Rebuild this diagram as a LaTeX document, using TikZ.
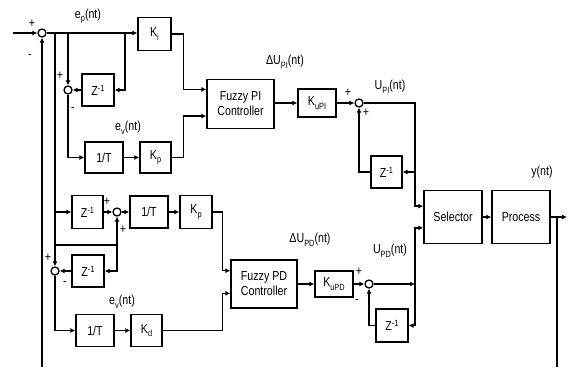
\documentclass[tikz,border=0pt]{standalone}
\usepackage{fontspec}
\setmainfont{Liberation Sans}[FakeStretch=0.82]
\usetikzlibrary{arrows.meta,calc}
\newcommand\sbx[1]{\raisebox{-3.5pt}{\fontsize{9}{9}\selectfont #1}}
\newcommand\spx[1]{\raisebox{4pt}{\fontsize{9}{9}\selectfont #1}}
\begin{document}
\begin{tikzpicture}[x=1pt,y=-1pt,
  every node/.style={font=\fontsize{13}{15}\selectfont},
  blk/.style={draw,line width=1.3pt,inner sep=0pt,align=center},
  bx/.style 2 args={minimum width=#1pt,minimum height=#2pt},
  sumc/.style={draw,circle,line width=1.3pt,minimum size=8pt,inner sep=0pt},
  ln/.style={line width=1.3pt},
  arr/.style={ln,-{Latex[length=5pt,width=5pt]}},
  lbl/.style={inner sep=0pt},
]
\useasboundingbox (0,0) rectangle (570,367);

% ---- boxes ----
\node[blk,bx={33}{33}] (Ki)  at (154.5,34) {K\sbx{i}};
\node[blk,bx={32}{32}] (Zp)  at (98,90) {Z\spx{-1}};
\node[blk,bx={38}{31}] (T1)  at (104,157.5) {1/T};
\node[blk,bx={31}{31}] (Kp1) at (155.5,157.5) {K\sbx{p}};
\node[blk,bx={67}{49}] (FPI) at (240.5,104) {Fuzzy PI\\Controller};
\node[blk,bx={38}{28}] (KuPI) at (317,103) {K\sbx{uPI}};
\node[blk,bx={31}{32}] (Zpi) at (386.5,172) {Z\spx{-1}};
\node[blk,bx={58}{53}] (Sel) at (453,217) {Selector};
\node[blk,bx={58}{53}] (Proc) at (521,217) {Process};

\node[blk,bx={31}{33}] (Zd1) at (87.5,212) {Z\spx{-1}};
\node[blk,bx={38}{32}] (T2)  at (149,212) {1/T};
\node[blk,bx={32}{33}] (Kp2) at (196,212) {K\sbx{p}};
\node[blk,bx={32}{32}] (Zd2) at (88,271) {Z\spx{-1}};
\node[blk,bx={38}{32}] (T3)  at (95,330.5) {1/T};
\node[blk,bx={31}{32}] (Kd)  at (146.5,330.5) {K\sbx{d}};
\node[blk,bx={66}{48}] (FPD) at (264,284) {Fuzzy PD\\Controller};
\node[blk,bx={38}{26}] (KuPD) at (334,284) {K\sbx{uPD}};
\node[blk,bx={32}{33}] (Zpd) at (392,325.5) {Z\spx{-1}};

% ---- summing junctions ----
\node[sumc] (s0) at (42,33) {};
\node[sumc] (s1) at (68,90) {};
\node[sumc] (s2) at (117,212) {};
\node[sumc] (s3) at (55,271) {};
\node[sumc] (s4) at (359,103) {};
\node[sumc] (s5) at (369,284) {};

% ---- helper coordinates ----
\coordinate (in)   at (13,33);
\coordinate (b55)  at (55,33);
\coordinate (b68)  at (68,33);
\coordinate (b125) at (125,33);
\coordinate (j245) at (55,245);
\coordinate (k245) at (117,245);
\coordinate (jr)   at (415,103);
\coordinate (jd)   at (415,284);
\coordinate (out)  at (567,217);
\coordinate (fb)   at (557,217);
\coordinate (fbb)  at (557,367);
\coordinate (fl)   at (42,367);
\coordinate (FPIa) at ($(FPI.north west)!0.21!(FPI.south west)$);
\coordinate (FPIb) at ($(FPI.north west)!0.74!(FPI.south west)$);
\coordinate (FPDa) at ($(FPD.north west)!0.23!(FPD.south west)$);
\coordinate (FPDb) at ($(FPD.north west)!0.69!(FPD.south west)$);
\coordinate (Sela) at ($(Sel.north west)!0.3!(Sel.south west)$);
\coordinate (Selb) at ($(Sel.north west)!0.7!(Sel.south west)$);

% ---- connectors: PI part ----
\draw[arr] (in) -- (s0.west);
\draw[arr] (s0.east) -- (Ki.west |- s0.east);
\draw[arr] (b68) -- (s1.north);
\draw[arr] (b125) |- (Zp.east);
\draw[arr] (Zp.west) -- (s1.east);
\draw[arr] (s1.south) |- (T1.west);
\draw[arr] (T1.east) -- (Kp1.west);
\draw[arr] (Ki.east) -- ++(12,0) |- (FPIa);
\draw[arr] (Kp1.east) -- ++(12,0) |- (FPIb);
\draw[arr] (FPI.east |- KuPI.west) -- (KuPI.west);
\draw[arr] (KuPI.east) -- (s4.west);
\draw[arr] (s4.east) -- (jr) |- (Sela);
\draw[arr] (jr |- Zpi.east) -- (Zpi.east);
\draw[arr] (Zpi.west) -| (s4.south);

% ---- connectors: PD part ----
\draw[arr] (b55) -- (s3.north);
\draw[arr] (b55 |- Zd1.west) -- (Zd1.west);
\draw[arr] (Zd1.east) -- (s2.west);
\draw[arr] (s2.east) -- (T2.west);
\draw[arr] (T2.east) -- (Kp2.west);
\draw[arr] (Kp2.east) -- ++(10,0) |- (FPDa);
\draw[ln] (j245) -- (k245);
\draw[arr] (k245) -- (s2.south);
\draw[arr] (k245) |- (Zd2.east);
\draw[arr] (Zd2.west) -- (s3.east);
\draw[arr] (s3.south) |- (T3.west);
\draw[arr] (T3.east) -- (Kd.west);
\draw[arr] (Kd.east) -- ++(60,0) |- (FPDb);
\draw[arr] (FPD.east) -- (KuPD.west);
\draw[arr] (KuPD.east) -- (s5.west);
\draw[arr] (s5.east) -- (jd);
\draw[arr] (jd |- Zpd.east) |- (Selb);
\draw[arr] (jd |- Zpd.east) -- (Zpd.east);
\draw[arr] (Zpd.west) -| (s5.south);

% ---- output and feedback ----
\draw[arr] (Sel.east) -- (Proc.west);
\draw[arr] (Proc.east) -- (out);
\draw[ln] (fb) -- (fbb);
\draw[arr] (fl) -- (s0.south);

% ---- labels ----
\node[lbl] (lep)  at (88,16)   {e\sbx{p}(nt)};
\node[lbl] (lev1) at (128,128) {e\sbx{v}(nt)};
\node[lbl] (ldpi) at (285,62)  {ΔU\sbx{PI}(nt)};
\node[lbl] (lupi) at (390,87)  {U\sbx{PI}(nt)};
\node[lbl] (ly)   at (542,172) {y(nt)};
\node[lbl] (ldpd) at (310,240) {ΔU\sbx{PD}(nt)};
\node[lbl] (lupd) at (390,251) {U\sbx{PD}(nt)};
\node[lbl] (lev2) at (122,302) {e\sbx{v}(nt)};

% ---- signs ----
\node[lbl] (p0a) at (32,24)  {+};
\node[lbl] (p0b) at (30,57)  {-};
\node[lbl] (p1a) at (60,76)  {+};
\node[lbl] (p1b) at (73,110) {-};
\node[lbl] (p4a) at (348,93) {+};
\node[lbl] (p4b) at (366,113) {+};
\node[lbl] (p2a) at (107,202) {+};
\node[lbl] (p2b) at (123,230) {+};
\node[lbl] (p3a) at (48,258) {+};
\node[lbl] (p3b) at (65,284) {-};
\node[lbl] (p5a) at (359,272) {+};
\node[lbl] (p5b) at (357,302) {-};
\end{tikzpicture}
\end{document}
